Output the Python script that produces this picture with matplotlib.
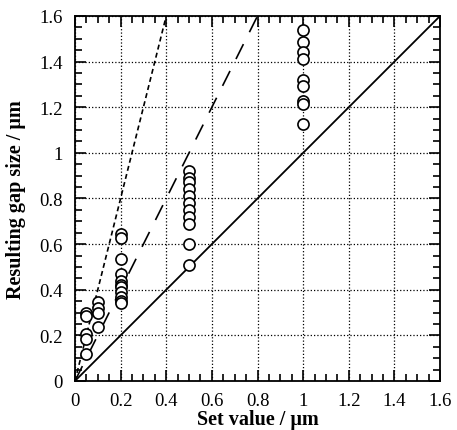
import numpy as np
import matplotlib
matplotlib.use("Agg")
import matplotlib.pyplot as plt
from matplotlib.ticker import MultipleLocator, FormatStrFormatter

plt.rcParams['font.family'] = ['Liberation Serif', 'DejaVu Serif']

# measured gap sizes for each set value (um)
set_values = [0.05, 0.1, 0.2, 0.5, 1.0]
gap_005 = [0.30, 0.285, 0.205, 0.185, 0.118]
gap_01 = [0.345, 0.32, 0.30, 0.236]
gap_02 = [0.645, 0.625, 0.535, 0.47, 0.44, 0.42, 0.41, 0.39, 0.37, 0.35, 0.34]
gap_05 = [0.92, 0.89, 0.87, 0.84, 0.81, 0.78, 0.75, 0.72, 0.69, 0.60, 0.51]
gap_10 = [1.537, 1.486, 1.442, 1.412, 1.32, 1.294, 1.229, 1.215, 1.127]
gaps = [gap_005, gap_01, gap_02, gap_05, gap_10]

# reference lines y = k * x
slopes = [1, 2, 4]

fig = plt.figure(figsize=(4.57, 4.31), dpi=100)
ax = fig.add_axes([0.164, 0.1137, 0.799, 0.847])

xl = np.array([0, 1.6])
ax.plot(xl, slopes[0] * xl, color='black', lw=1.3, zorder=3)
ax.plot(xl, slopes[1] * xl, color='black', lw=1.2, dashes=(10, 8), zorder=3)
ax.plot(xl, slopes[2] * xl, color='black', lw=1.2, dashes=(3, 2), zorder=3)

for sv, g in zip(set_values, gaps):
    ax.plot([sv] * len(g), g, 'o', mfc='white', mec='black', ms=8, mew=1.2, zorder=4)

ax.set_xlim(0, 1.6)
ax.set_ylim(0, 1.6)
ax.xaxis.set_major_locator(MultipleLocator(0.2))
ax.yaxis.set_major_locator(MultipleLocator(0.2))
ax.xaxis.set_minor_locator(MultipleLocator(0.05))
ax.yaxis.set_minor_locator(MultipleLocator(0.05))
ax.xaxis.set_major_formatter(FormatStrFormatter('%g'))
ax.yaxis.set_major_formatter(FormatStrFormatter('%g'))
ax.tick_params(which='both', direction='in', top=True, right=True, labelsize=13.5, width=1.2)
ax.tick_params(which='major', length=8)
ax.tick_params(axis='x', which='major', pad=8)
ax.tick_params(axis='y', which='major', pad=9)
ax.tick_params(which='minor', length=5)
ax.grid(True, which='major', color='black', ls=':', lw=0.9)
for s in ax.spines.values():
    s.set_linewidth(1.3)

ax.set_xlabel('Set value / \u03bcm', fontsize=14.5, fontweight='bold', labelpad=0)
ax.set_ylabel('Resulting gap size / \u03bcm', fontsize=14.5, fontweight='bold', labelpad=9)

fig.savefig('out.png', dpi=100)
